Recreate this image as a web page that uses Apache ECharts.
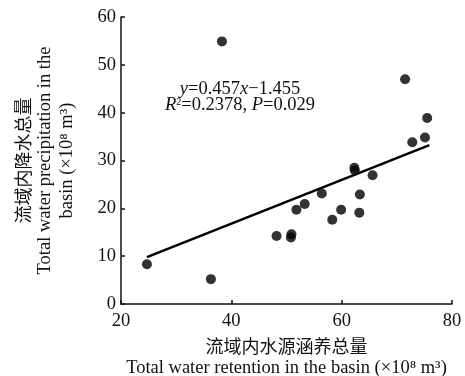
<!DOCTYPE html>
<html><head><meta charset="utf-8">
<script src="https://cdn.jsdelivr.net/npm/echarts@6/dist/echarts.min.js"></script>
<style>html,body{margin:0;padding:0;background:#fff}#c{width:465px;height:376px}</style>
</head><body><div id="c"></div>
<script>
var retention = [24.7, 36.3, 38.3, 48.2, 50.9, 50.8, 51.8, 53.3, 56.4, 58.3, 59.9, 62.3, 62.4, 63.3, 63.2, 65.6, 71.5, 72.8, 75.1, 75.5];
var precipitation = [8.3, 5.2, 54.9, 14.2, 14.6, 13.9, 19.7, 20.9, 23.1, 17.6, 19.7, 28.5, 27.9, 22.9, 19.1, 26.9, 47.0, 33.8, 34.8, 38.9];
var fitX = [24.7, 75.9];
var fitY = [9.8, 33.2];
var xTicks = [20, 40, 60, 80];
var yTicks = [0, 10, 20, 30, 40, 50, 60];

var FONT = "'Liberation Serif','Noto Sans CJK SC',serif";
var scatterData = retention.map(function(v, i){ return [v, precipitation[i]]; });
var lineData = fitX.map(function(v, i){ return [v, fitY[i]]; });

var nameRich = {
  c: {fontFamily: "'Noto Sans CJK SC'", fontSize: 18, color: '#111', lineHeight: 22},
  e: {fontFamily: FONT, fontSize: 18.5, color: '#111', lineHeight: 22}
};

var chart = echarts.init(document.getElementById('c'));
chart.setOption({
  backgroundColor: '#fff',
  animation: false,
  grid: {left: 121, right: 13, top: 17, bottom: 72, containLabel: false, outerBoundsMode: 'none'},
  xAxis: {
    type: 'value', min: xTicks[0], max: xTicks[xTicks.length-1], interval: 20,
    splitLine: {show: false},
    axisLine: {onZero: false, lineStyle: {color: '#111', width: 1.5}},
    axisTick: {inside: true, length: 4, lineStyle: {color: '#111', width: 1.5}},
    axisLabel: {color: '#111', fontFamily: FONT, fontSize: 18.5, margin: 8},
    name: '{c|流域内水源涵养总量}\n{e|Total water retention in the basin (×10⁸ m³)}',
    nameLocation: 'middle', nameGap: 26,
    nameTextStyle: {color: '#111', fontFamily: FONT, fontSize: 18, lineHeight: 22, align: 'center', rich: nameRich}
  },
  yAxis: {
    type: 'value', min: yTicks[0], max: yTicks[yTicks.length-1], interval: 10,
    splitLine: {show: false},
    axisLine: {onZero: false, lineStyle: {color: '#111', width: 1.5}},
    axisTick: {inside: true, length: 4, lineStyle: {color: '#111', width: 1.5}},
    axisLabel: {color: '#111', fontFamily: FONT, fontSize: 18.5, margin: 5},
    name: '{c|流域内降水总量}\n{e|Total water precipitation in the}\n{e|basin (×10⁸ m³)}',
    nameLocation: 'middle', nameGap: 43, nameRotate: 90,
    nameTextStyle: {color: '#111', fontFamily: FONT, fontSize: 18, lineHeight: 21, align: 'center', rich: nameRich}
  },
  graphic: [{
    type: 'text', left: 240 - 80, top: 80,
    style: {
      rich: {
        n: {fontFamily: FONT, fontSize: 18.5, fill: '#111'},
        i: {fontFamily: FONT, fontSize: 18.5, fontStyle: 'italic', fill: '#111'},
        s: {fontFamily: FONT, fontSize: 10, fill: '#111', verticalAlign: 'top', padding: [0,0,8,0]}
      },
      text: '{i|y}{n|=0.457}{i|x}{n|−1.455}\n{i|R}{s|2}{n|=0.2378, }{i|P}{n|=0.029}',
      width: 160, align: 'center', textAlign: 'center', lineHeight: 16
    }
  }],
  series: [
    {type: 'scatter', data: scatterData, symbolSize: 10, itemStyle: {color: '#000'}},
    {type: 'line', data: lineData, showSymbol: false, symbol: 'none', lineStyle: {color: '#000', width: 2.5}}
  ]
});
</script></body></html>
